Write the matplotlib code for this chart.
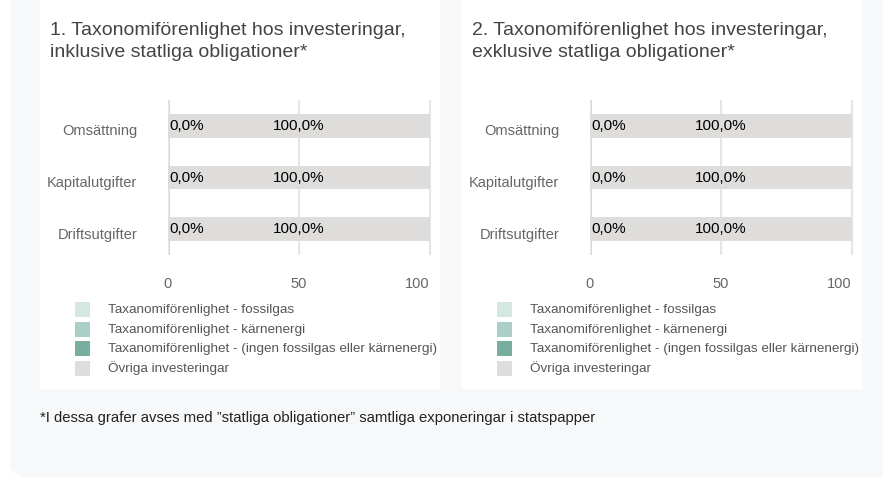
import matplotlib.pyplot as plt
from matplotlib.patches import Rectangle, FancyBboxPatch
from matplotlib.transforms import ScaledTranslation

plt.rcParams['font.family'] = ['Liberation Sans', 'DejaVu Sans']

kategorier = ['Omsättning', 'Kapitalutgifter', 'Driftsutgifter']
fossilgas = [0.0, 0.0, 0.0]
karnenergi = [0.0, 0.0, 0.0]
ingen = [0.0, 0.0, 0.0]
ovriga = [100.0, 100.0, 100.0]
xticks = [0, 50, 100]
titlar = ['1. Taxonomiförenlighet hos investeringar,\ninklusive statliga obligationer*',
          '2. Taxonomiförenlighet hos investeringar,\nexklusive statliga obligationer*']
serienamn = ['Taxanomiförenlighet - fossilgas',
             'Taxanomiförenlighet - kärnenergi',
             'Taxanomiförenlighet - (ingen fossilgas eller kärnenergi)',
             'Övriga investeringar']
farger = ['#d5e7e2', '#abcfc6', '#78ae9f', '#dfdddb']
fotnot = '*I dessa grafer avses med ”statliga obligationer” samtliga exponeringar i statspapper'

W, H = 883, 479
fig = plt.figure(figsize=(W / 100, H / 100), dpi=100)
fig.patch.set_facecolor('white')

def fx(px):
    return px / W

def fy(py):
    return 1 - py / H

# bakgrund
bg = FancyBboxPatch((fx(10), fy(478)), fx(950), fy(-40) - fy(478),
                    boxstyle='round,pad=0,rounding_size=0.03',
                    transform=fig.transFigure, facecolor='#f7f8fa',
                    edgecolor='none', zorder=-3)
fig.patches.append(bg)

for i, x0 in enumerate([40, 462]):
    panel = Rectangle((fx(x0), fy(389)), fx(400), fy(0) - fy(389),
                      transform=fig.transFigure, facecolor='white',
                      edgecolor='none', zorder=-2)
    fig.patches.append(panel)

    fig.text(fx(x0 + 10), fy(22), titlar[i], fontsize=14, color='#444444',
             ha='left', va='top', linespacing=1.35)

    ax = fig.add_axes([fx(x0 + 128), fy(255), fx(264), fy(100) - fy(255)])
    ax.set_facecolor('none')
    y = range(len(kategorier))
    left = [0.0] * 3
    serier = [fossilgas, karnenergi, ingen, ovriga]
    for s, c in zip(serier, farger):
        ax.barh(y, s, left=left, height=0.46, color=c, zorder=2)
        left = [l + v for l, v in zip(left, s)]
    for j in y:
        andel = fossilgas[j] + karnenergi[j] + ingen[j]
        ax.text(0.4, j, ('%.1f%%' % andel).replace('.', ','),
                ha='left', va='center', fontsize=11, color='black', zorder=3)
        ax.text(andel + ovriga[j] / 2, j, ('%.1f%%' % ovriga[j]).replace('.', ','),
                ha='center', va='center', fontsize=11, color='black', zorder=3)
    ax.set_xlim(0, 100.8)
    ax.set_ylim(2.5, -0.5)
    ax.set_yticks(list(y))
    ax.set_yticklabels(kategorier)
    ax.set_xticks(xticks)
    ax.set_xticklabels([])
    ax.tick_params(axis='both', length=0, labelsize=10.5, labelcolor='#666666')
    ax.tick_params(axis='y', pad=22)
    for lab in ax.get_yticklabels():
        lab.set_transform(lab.get_transform() + ScaledTranslation(0, -0.04, fig.dpi_scale_trans))
    # x-etiketter, sista högerjusterad som i originalet
    trans = ax.get_xaxis_transform()
    for k, t in enumerate(xticks):
        ax.text(t, -0.185, str(t), transform=trans, fontsize=10.5, color='#666666',
                ha='right' if k == len(xticks) - 1 else 'center', va='center',
                clip_on=False)
    for sp in ax.spines.values():
        sp.set_visible(False)
    ax.grid(axis='x', color='#e6e6e6', linewidth=1.5, zorder=0)
    ax.axvline(0, color='#c9d5ea', linewidth=2, zorder=1)

    # legend
    for k, (namn, c) in enumerate(zip(serienamn, farger)):
        yy = 310 + k * 19.5
        fig.patches.append(Rectangle((fx(x0 + 35), fy(yy + 7)), fx(15), fy(0) - fy(15),
                                     transform=fig.transFigure, facecolor=c,
                                     edgecolor='none'))
        fig.text(fx(x0 + 68), fy(yy), namn, fontsize=9.7, color='#555555',
                 ha='left', va='center')

fig.text(fx(40), fy(418), fotnot, fontsize=10.75, color='#222222',
         ha='left', va='center')

fig.savefig('out.png', dpi=100, facecolor=fig.get_facecolor())
